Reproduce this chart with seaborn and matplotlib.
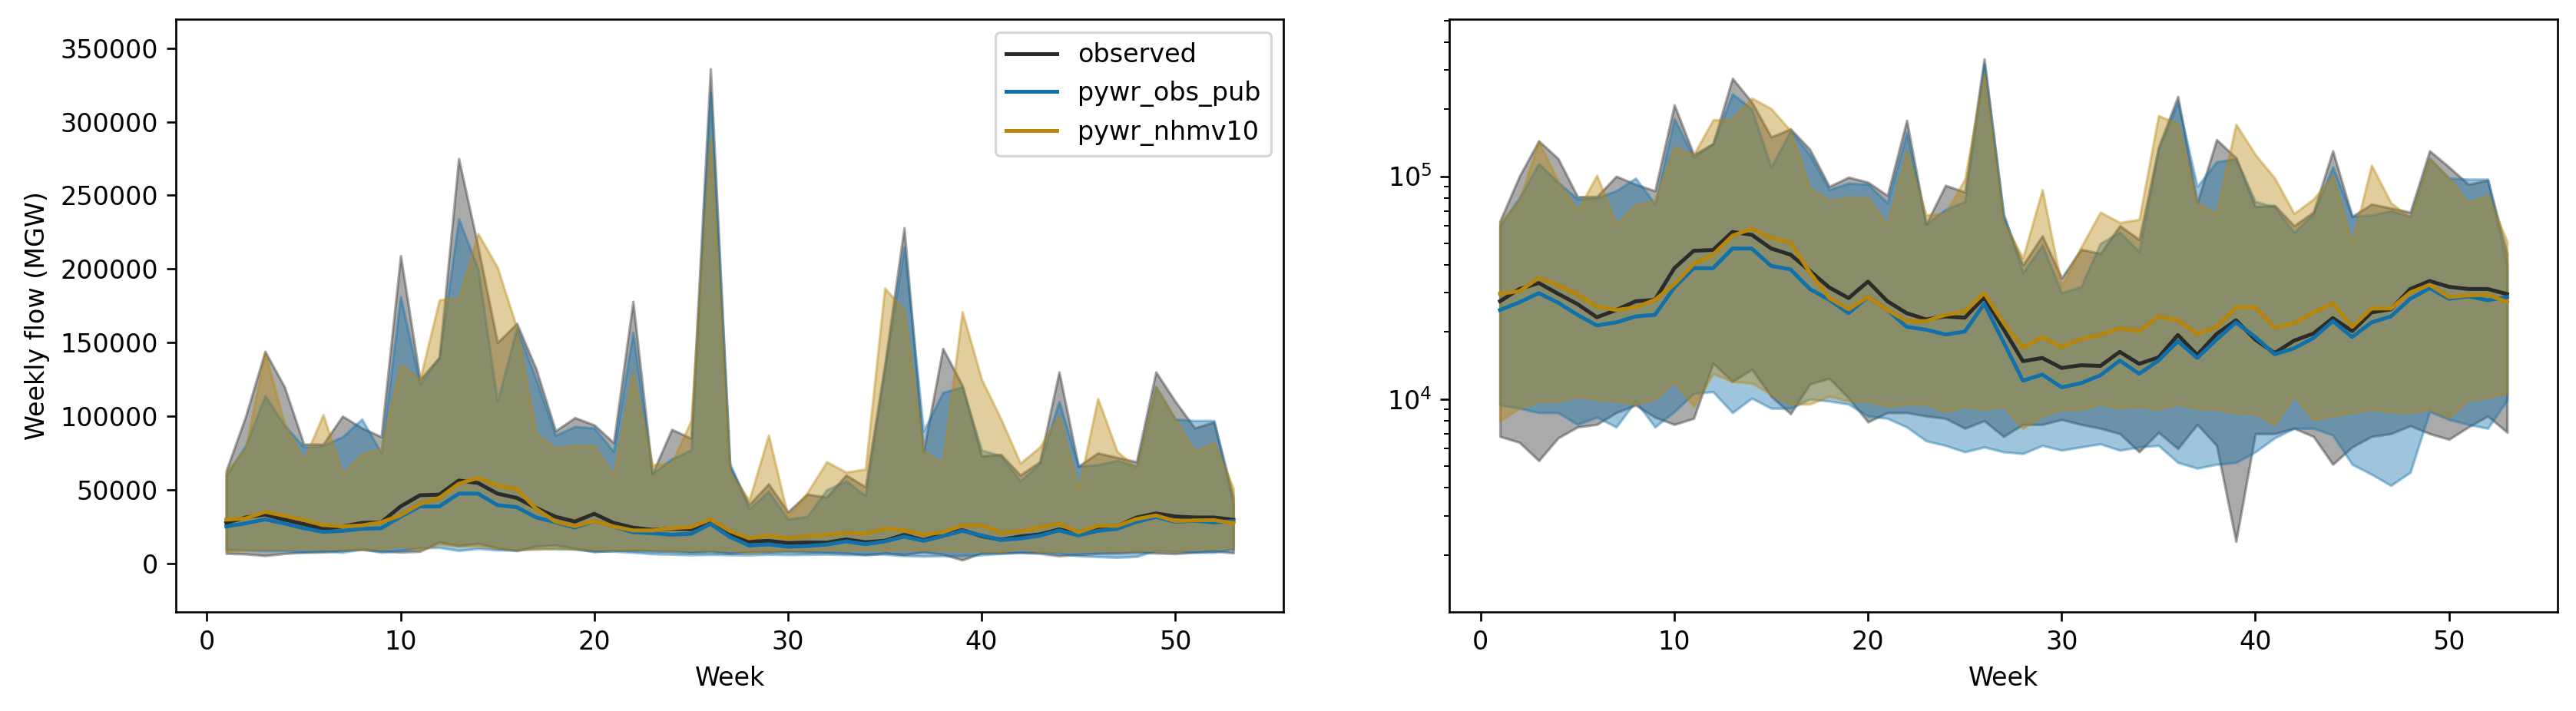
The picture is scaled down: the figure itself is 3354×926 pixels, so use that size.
import numpy as np
import pandas as pd
import matplotlib
matplotlib.use("Agg")
import matplotlib.pyplot as plt
import seaborn as sns

weeks = list(range(1, 54))

# observed
obs_med = [27.5, 31.2, 33.2, 29.7, 26.7, 23.3, 25.1, 27.5, 27.9, 38.7, 46.3, 46.7, 56.3, 54.6, 47.4, 44.5,
           37.6, 31.7, 28.4, 33.7, 27.5, 24.3, 22.8, 23.5, 23.2, 28.6, 20.6, 14.8, 15.3, 13.8, 14.2, 14.1,
           16.3, 14.4, 15.4, 19.4, 15.8, 19.6, 22.6, 18.5, 16.1, 18.3, 19.7, 23.1, 20.2, 24.5, 25.3, 31.2,
           33.9, 31.9, 31.2, 31.2, 29.6]
obs_max = [63, 100, 144, 120, 81, 81, 100, 92, 86, 209, 125, 140, 275, 215, 150, 163, 132, 90, 99, 94,
           82, 178, 61, 91, 85, 336, 66, 40, 54, 35, 47, 45, 60, 52, 135, 228, 76, 146, 121, 73, 74, 60,
           69, 130, 66, 75, 72, 69, 130, 110, 92, 96, 45]
obs_min = [6.8, 6.4, 5.3, 6.7, 7.5, 7.7, 8.7, 9.4, 8.3, 7.7, 8.2, 14.5, 12.0, 13.6, 10.3, 8.6, 11.7, 12.4,
           10.1, 7.9, 8.7, 8.7, 8.4, 8.2, 7.4, 8.0, 6.8, 7.7, 7.7, 8.1, 7.7, 7.4, 7.0, 5.8, 7.1, 6.0, 7.7,
           6.2, 2.3, 7.0, 7.0, 7.4, 6.8, 5.1, 6.1, 6.8, 7.0, 7.6, 7.0, 6.6, 7.5, 8.4, 7.1]

# pywr_obs_pub
pub_med = [25.1, 27.2, 29.9, 27.1, 23.9, 21.4, 22.1, 23.5, 23.9, 31.7, 38.7, 38.7, 47.4, 47.4, 39.6, 38.2,
           31.2, 27.9, 24.3, 28.8, 25.1, 21.1, 20.5, 19.5, 20.1, 26.8, 18.0, 12.1, 12.9, 11.3, 11.8, 12.8,
           14.9, 13.0, 14.9, 18.2, 15.3, 18.5, 22.1, 19.0, 15.9, 16.9, 18.8, 22.4, 19.0, 22.1, 23.5, 28.2,
           31.5, 28.2, 28.9, 27.8, 28.7]
pub_max = [60, 80, 114, 94, 79, 80, 86, 98, 75, 181, 122, 140, 234, 200, 110, 160, 125, 87, 93, 92, 76,
           157, 61, 71, 77, 320, 68, 37, 49, 30, 32, 50, 56, 46, 132, 215, 90, 116, 120, 77, 73, 56, 68,
           110, 66, 67, 70, 66, 120, 98, 97, 97, 40]
pub_min = [9.4, 9.1, 8.7, 8.7, 7.7, 8.3, 7.5, 9.8, 7.5, 8.8, 10.6, 10.8, 8.7, 10.1, 9.1, 9.1, 10.0, 9.8,
           9.5, 8.4, 8.2, 7.5, 6.5, 6.2, 5.8, 6.1, 5.8, 5.7, 6.2, 5.9, 6.1, 6.3, 5.9, 6.1, 6.2, 5.2, 4.9,
           5.1, 5.2, 5.8, 6.7, 7.4, 7.4, 6.9, 5.1, 4.6, 4.1, 4.7, 8.8, 8.1, 7.7, 7.4, 9.9]

# pywr_nhmv10
nhm_med = [29.7, 30.5, 35.0, 32.4, 29.5, 26.1, 25.1, 25.8, 27.9, 32.7, 40.4, 44.5, 54.1, 58.1, 52.9, 50.5,
           37.0, 28.4, 25.3, 28.8, 25.1, 22.4, 22.4, 23.9, 24.7, 29.9, 22.0, 17.0, 19.0, 17.1, 18.6, 19.4,
           20.8, 20.2, 23.5, 22.6, 19.6, 21.1, 25.8, 25.8, 20.9, 21.9, 24.5, 26.9, 21.1, 25.5, 25.5, 30.1,
           32.6, 28.7, 29.2, 29.4, 27.3]
nhm_max = [62, 78, 143, 95, 70, 101, 61, 74, 78, 135, 125, 179, 180, 224, 201, 160, 88, 78, 80, 80, 60,
           130, 67, 68, 97, 290, 62, 43, 87, 32, 48, 69, 62, 64, 187, 172, 76, 68, 171, 125, 98, 68, 79,
           100, 50, 112, 76, 65, 120, 98, 76, 82, 51]
nhm_min = [8.0, 9.1, 9.8, 9.8, 10.3, 10.0, 9.8, 9.5, 10.0, 12.0, 9.3, 13.0, 12.0, 11.8, 10.5, 9.5, 9.5,
           10.3, 9.8, 9.8, 9.3, 9.5, 9.5, 8.8, 9.3, 9.0, 9.3, 7.4, 8.4, 9.0, 9.0, 9.5, 9.1, 9.3, 9.0, 9.5,
           9.1, 9.0, 8.7, 8.6, 7.7, 10.4, 8.1, 8.4, 8.7, 9.0, 8.8, 8.7, 9.0, 8.3, 9.9, 10.2, 10.6]

labels = ["observed", "pywr_obs_pub", "pywr_nhmv10"]
colors = ["#2b2b2b", "#1170aa", "#b8860b"]

K = 1000.0
series = {
    "observed": (obs_med, obs_min, obs_max),
    "pywr_obs_pub": (pub_med, pub_min, pub_max),
    "pywr_nhmv10": (nhm_med, nhm_min, nhm_max),
}

rows = []
for lab in labels:
    med, lo, hi = series[lab]
    for w, m, a, b in zip(weeks, med, lo, hi):
        rows.append({"Week": w, "source": lab, "median": m * K, "min": a * K, "max": b * K})
df = pd.DataFrame(rows)

DPI = 240
fig, axes = plt.subplots(1, 2, figsize=(3354 / DPI, 926 / DPI), dpi=DPI)
fig.subplots_adjust(left=0.0683, right=0.9928, bottom=0.1393, top=0.9726, wspace=0.1498)

for ax in axes:
    for lab, c in zip(labels, colors):
        d = df[df["source"] == lab]
        ax.fill_between(d["Week"], d["min"], d["max"], color=c, alpha=0.4)
    for lab, c in zip(labels, colors):
        d = df[df["source"] == lab]
        sns.lineplot(data=d, x="Week", y="median", color=c, label=lab, ax=ax, linewidth=1.5)
    ax.set_xlabel("Week")

axes[0].set_ylabel("Weekly flow (MGW)")
axes[0].set_ylim(-33000, 369500)
axes[0].legend(loc="upper right")

axes[1].set_yscale("log")
axes[1].set_ylim(1.11e3, 5.05e5)
axes[1].set_ylabel("")
leg = axes[1].get_legend()
if leg is not None:
    leg.remove()

fig.savefig("out.png", dpi=DPI)
